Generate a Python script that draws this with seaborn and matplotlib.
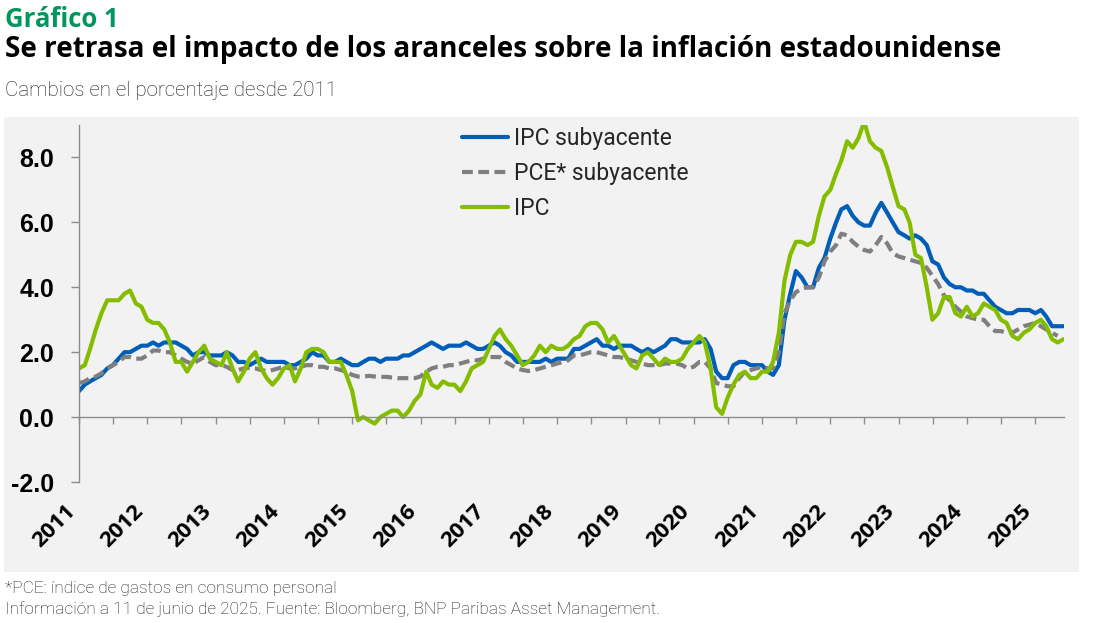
import numpy as np
import pandas as pd
import seaborn as sns
import matplotlib.pyplot as plt
import matplotlib.dates as mdates
from matplotlib.patches import Rectangle
from matplotlib.ticker import FormatStrFormatter

# variacion interanual (%), datos mensuales dic-2010 .. may-2025
fechas = pd.date_range('2010-12-31', periods=174, freq='ME')

ipc_sub = [0.8,
           1.0, 1.1, 1.2, 1.3, 1.5, 1.6, 1.8, 2.0, 2.0, 2.1, 2.2, 2.2,   # 2011
           2.3, 2.2, 2.3, 2.3, 2.3, 2.2, 2.1, 1.9, 2.0, 2.0, 1.9, 1.9,   # 2012
           1.9, 2.0, 1.9, 1.7, 1.7, 1.6, 1.7, 1.8, 1.7, 1.7, 1.7, 1.7,   # 2013
           1.6, 1.6, 1.7, 1.8, 2.0, 1.9, 1.9, 1.7, 1.7, 1.8, 1.7, 1.6,   # 2014
           1.6, 1.7, 1.8, 1.8, 1.7, 1.8, 1.8, 1.8, 1.9, 1.9, 2.0, 2.1,   # 2015
           2.2, 2.3, 2.2, 2.1, 2.2, 2.2, 2.2, 2.3, 2.2, 2.1, 2.1, 2.2,   # 2016
           2.3, 2.2, 2.0, 1.9, 1.7, 1.7, 1.7, 1.7, 1.7, 1.8, 1.7, 1.8,   # 2017
           1.8, 1.8, 2.1, 2.1, 2.2, 2.3, 2.4, 2.2, 2.2, 2.1, 2.2, 2.2,   # 2018
           2.2, 2.1, 2.0, 2.1, 2.0, 2.1, 2.2, 2.4, 2.4, 2.3, 2.3, 2.3,   # 2019
           2.3, 2.4, 2.1, 1.4, 1.2, 1.2, 1.6, 1.7, 1.7, 1.6, 1.6, 1.6,   # 2020
           1.4, 1.3, 1.6, 3.0, 3.8, 4.5, 4.3, 4.0, 4.0, 4.6, 4.9, 5.5,   # 2021
           6.0, 6.4, 6.5, 6.2, 6.0, 5.9, 5.9, 6.3, 6.6, 6.3, 6.0, 5.7,   # 2022
           5.6, 5.5, 5.6, 5.5, 5.3, 4.8, 4.7, 4.3, 4.1, 4.0, 4.0, 3.9,   # 2023
           3.9, 3.8, 3.8, 3.6, 3.4, 3.3, 3.2, 3.2, 3.3, 3.3, 3.3, 3.2,   # 2024
           3.3, 3.1, 2.8, 2.8, 2.8]                                      # 2025

pce_sub = [1.05,
           1.1, 1.2, 1.25, 1.35, 1.5, 1.6, 1.7, 1.85, 1.85, 1.8, 1.8, 1.9,
           2.05, 2.05, 2.0, 2.0, 1.9, 1.8, 1.7, 1.65, 1.75, 1.85, 1.7, 1.6,
           1.6, 1.55, 1.45, 1.45, 1.5, 1.52, 1.5, 1.45, 1.42, 1.45, 1.5, 1.55,
           1.5, 1.5, 1.55, 1.6, 1.6, 1.55, 1.55, 1.5, 1.5, 1.45, 1.4, 1.3,
           1.25, 1.25, 1.27, 1.25, 1.24, 1.24, 1.22, 1.2, 1.2, 1.2, 1.2, 1.25,
           1.4, 1.5, 1.55, 1.55, 1.6, 1.6, 1.65, 1.7, 1.75, 1.75, 1.8, 1.85,
           1.85, 1.85, 1.7, 1.6, 1.5, 1.45, 1.42, 1.45, 1.5, 1.55, 1.6, 1.65,
           1.7, 1.75, 1.9, 1.9, 1.95, 2.0, 2.0, 1.95, 1.9, 1.85, 1.85, 1.8,
           1.75, 1.7, 1.65, 1.6, 1.6, 1.6, 1.65, 1.65, 1.65, 1.6, 1.5, 1.55,
           1.7, 1.7, 1.5, 1.05, 1.0, 0.95, 0.95, 1.2, 1.4, 1.45, 1.5, 1.55,
           1.5, 1.5, 2.0, 3.2, 3.6, 3.85, 3.95, 4.0, 4.0, 4.3, 4.8, 5.1,
           5.3, 5.65, 5.6, 5.4, 5.25, 5.15, 5.1, 5.3, 5.55, 5.35, 5.05, 4.95,
           4.9, 4.85, 4.8, 4.75, 4.6, 4.35, 4.1, 3.75, 3.6, 3.4, 3.25, 3.1,
           3.05, 3.0, 3.0, 2.8, 2.65, 2.65, 2.6, 2.6, 2.7, 2.8, 2.85, 2.9,
           2.8, 2.7, 2.6, 2.5, np.nan]   # mayo 2025 aun no publicado

ipc = [1.5,
       1.6, 2.1, 2.7, 3.2, 3.6, 3.6, 3.6, 3.8, 3.9, 3.5, 3.4, 3.0,
       2.9, 2.9, 2.7, 2.3, 1.7, 1.7, 1.4, 1.7, 2.0, 2.2, 1.8, 1.7,
       1.6, 2.0, 1.5, 1.1, 1.4, 1.8, 2.0, 1.5, 1.2, 1.0, 1.2, 1.5,
       1.6, 1.1, 1.5, 2.0, 2.1, 2.1, 2.0, 1.7, 1.7, 1.7, 1.3, 0.8,
       -0.1, 0.0, -0.1, -0.2, 0.0, 0.1, 0.2, 0.2, 0.0, 0.2, 0.5, 0.7,
       1.4, 1.0, 0.9, 1.1, 1.0, 1.0, 0.8, 1.1, 1.5, 1.6, 1.7, 2.1,
       2.5, 2.7, 2.4, 2.2, 1.9, 1.6, 1.7, 1.9, 2.2, 2.0, 2.2, 2.1,
       2.1, 2.2, 2.4, 2.5, 2.8, 2.9, 2.9, 2.7, 2.3, 2.5, 2.2, 1.9,
       1.6, 1.5, 1.9, 2.0, 1.8, 1.6, 1.8, 1.7, 1.7, 1.8, 2.1, 2.3,
       2.5, 2.3, 1.5, 0.3, 0.1, 0.6, 1.0, 1.3, 1.4, 1.2, 1.2, 1.4,
       1.4, 1.7, 2.6, 4.2, 5.0, 5.4, 5.4, 5.3, 5.4, 6.2, 6.8, 7.0,
       7.5, 7.9, 8.5, 8.3, 8.6, 9.1, 8.5, 8.3, 8.2, 7.7, 7.1, 6.5,
       6.4, 6.0, 5.0, 4.9, 4.0, 3.0, 3.2, 3.7, 3.7, 3.2, 3.1, 3.4,
       3.1, 3.2, 3.5, 3.4, 3.3, 3.0, 2.9, 2.5, 2.4, 2.6, 2.7, 2.9,
       3.0, 2.8, 2.4, 2.3, 2.4]

df = pd.DataFrame({'fecha': fechas, 'IPC subyacente': ipc_sub,
                   'PCE* subyacente': pce_sub, 'IPC': ipc})

sns.set_theme(style='white')
plt.rcParams['font.family'] = ['Roboto', 'DejaVu Sans']
plt.rcParams['axes.unicode_minus'] = False

W, H = 1096, 623
fig = plt.figure(figsize=(W / 100, H / 100), dpi=100)

# panel gris de fondo
fig.patches.append(Rectangle((4 / W, 1 - 572 / H), 1075 / W, 455 / H,
                             transform=fig.transFigure, facecolor='#F2F2F2',
                             edgecolor='none', zorder=-1))

ax = fig.add_axes([79 / W, 1 - 482 / H, (1064 - 79) / W, (482 - 125) / H])
ax.set_facecolor('none')

sns.lineplot(data=df, x='fecha', y='IPC subyacente', color='#005EB8',
             linewidth=3, label='IPC subyacente', ax=ax)
sns.lineplot(data=df, x='fecha', y='PCE* subyacente', color='#7F7F7F',
             linewidth=3, linestyle=(0, (2.6, 1.3)), label='PCE* subyacente', ax=ax)
sns.lineplot(data=df, x='fecha', y='IPC', color='#84BD00',
             linewidth=3, label='IPC', ax=ax)

ax.set_xlim(pd.Timestamp('2010-12-31'), pd.Timestamp('2025-06-03'))
ax.set_ylim(-2, 9)
ax.set_xlabel('')
ax.set_ylabel('')

for s in ['top', 'right']:
    ax.spines[s].set_visible(False)
ax.spines['bottom'].set_position(('data', 0))
for s in ['left', 'bottom']:
    ax.spines[s].set_color('#8C8C8C')
    ax.spines[s].set_linewidth(1)

ax.set_yticks([-2, 0, 2, 4, 6, 8])
ax.yaxis.set_major_formatter(FormatStrFormatter('%.1f'))
ax.tick_params(axis='y', direction='out', length=6, width=1, color='#8C8C8C',
               pad=12, left=True, labelsize=18, labelcolor='black')
for lab in ax.get_yticklabels():
    lab.set_fontfamily('Liberation Sans')
    lab.set_fontweight('bold')

ax.xaxis.set_major_locator(mdates.YearLocator())
ax.xaxis.set_minor_locator(mdates.MonthLocator(bymonth=7))
ax.xaxis.set_major_formatter(mdates.DateFormatter('%Y'))
ax.tick_params(axis='x', which='both', direction='out', length=5, width=1,
               color='#8C8C8C', bottom=True)
ax.tick_params(axis='x', which='major', pad=55, labelsize=16, labelcolor='black')
for lab in ax.get_xticklabels():
    lab.set_rotation(45)
    lab.set_ha('right')
    lab.set_fontfamily('Open Sans')
    lab.set_fontweight('bold')

ax.legend(loc='upper left', bbox_to_anchor=(462 / W, 1 - 127 / H),
          bbox_transform=fig.transFigure, frameon=False, fontsize=16.5,
          handlelength=2.0, handletextpad=0.25, labelspacing=0.52,
          borderpad=0, borderaxespad=0)

fig.text(5 / W, 1 - 27 / H, 'Gráfico 1', fontsize=18.5, fontweight='bold',
         family='Open Sans', color='#00965E', va='baseline')
fig.text(5 / W, 1 - 57 / H,
         'Se retrasa el impacto de los aranceles sobre la inflación estadounidense',
         fontsize=20.05, fontweight='bold', family='Open Sans', color='black',
         va='baseline')
fig.text(5 / W, 1 - 96 / H, 'Cambios en el porcentaje desde 2011',
         fontsize=14.8, fontweight='light', color='#1A1A1A', va='baseline')
fig.text(5 / W, 1 - 593 / H, '*PCE: índice de gastos en consumo personal',
         fontsize=12.4, fontweight='light', color='#1A1A1A', va='baseline')
fig.text(5 / W, 1 - 614 / H,
         'Información a 11 de junio de 2025. Fuente: Bloomberg, BNP Paribas Asset Management.',
         fontsize=12.4, fontweight='light', color='#1A1A1A', va='baseline')

fig.savefig('out.png', dpi=100)
